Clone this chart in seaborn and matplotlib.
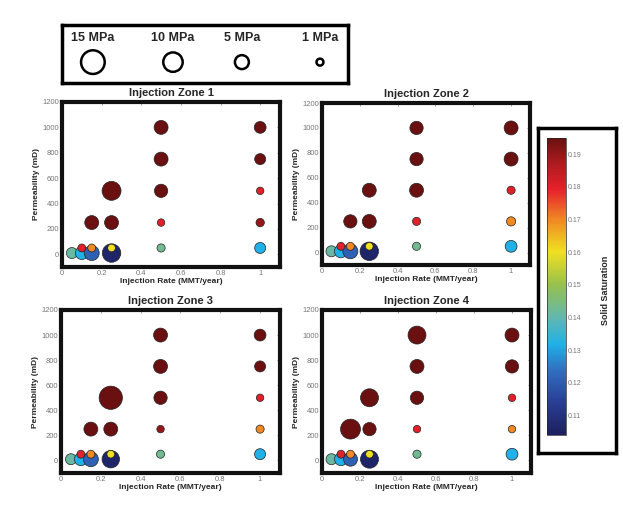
import matplotlib
matplotlib.use("Agg")
import matplotlib.pyplot as plt
import seaborn as sns
import pandas as pd
from matplotlib.colors import Normalize, LinearSegmentedColormap
from matplotlib.cm import ScalarMappable

# --- data ---
rate = [0.05, 0.1, 0.15, 0.25, 0.1, 0.15, 0.25, 0.5, 1, 0.15, 0.25, 0.5, 1,
        0.25, 0.5, 1, 0.5, 1, 0.5, 1]
perm = [10, 10, 10, 10, 50, 50, 50, 50, 50, 250, 250, 250, 250,
        500, 500, 500, 750, 750, 1000, 1000]

zone_names = ["Injection Zone 1", "Injection Zone 2", "Injection Zone 3", "Injection Zone 4"]

pressure_z1 = [3, 4.3, 5.8, 9, 1.4, 1.4, 1.3, 1.5, 3, 5, 5, 1.2, 1.6, 9.5, 4.5, 1.2, 5, 3, 5, 3.5]
pressure_z2 = [3, 4.3, 5.8, 9, 1.4, 1.4, 1.3, 1.5, 3.5, 4.5, 5, 1.5, 2, 5, 5, 1.5, 4.5, 5, 4.5, 5]
pressure_z3 = [3, 4.3, 5.8, 8, 1.4, 1.4, 1.3, 1.5, 3, 5, 5, 1.2, 1.5, 14.5, 4.5, 1.2, 5, 3, 5, 3.5]
pressure_z4 = [3, 4.3, 5, 8.5, 1.4, 1.4, 1.3, 1.5, 3.5, 10.5, 4.5, 1.2, 1.2, 8.5, 4.5, 1.2, 5, 4.5, 8.5, 5]

sat_z1 = [0.141, 0.132, 0.121, 0.106, 0.18, 0.17, 0.16, 0.143, 0.132, 0.195, 0.195, 0.18, 0.19,
          0.195, 0.195, 0.18, 0.195, 0.195, 0.195, 0.195]
sat_z2 = [0.141, 0.132, 0.121, 0.106, 0.18, 0.17, 0.16, 0.143, 0.132, 0.195, 0.195, 0.18, 0.17,
          0.195, 0.195, 0.18, 0.195, 0.195, 0.195, 0.195]
sat_z3 = [0.141, 0.132, 0.121, 0.106, 0.18, 0.17, 0.16, 0.143, 0.132, 0.195, 0.195, 0.19, 0.17,
          0.195, 0.195, 0.18, 0.195, 0.195, 0.195, 0.195]
sat_z4 = [0.141, 0.132, 0.121, 0.106, 0.18, 0.17, 0.16, 0.143, 0.132, 0.195, 0.195, 0.18, 0.17,
          0.195, 0.195, 0.18, 0.195, 0.195, 0.195, 0.195]

legend_pressures = [15, 10, 5, 1]
legend_labels = ["15 MPa", "10 MPa", "5 MPa", "1 MPa"]

cbar_ticks = [0.11, 0.12, 0.13, 0.14, 0.15, 0.16, 0.17, 0.18, 0.19]
sat_min, sat_max = 0.104, 0.195
size_range = (25, 290)
size_norm = (1, 15)

# washed-out jet, sampled from the original colour bar
cmap = LinearSegmentedColormap.from_list('jet_muted', [
    (0.0, '#1c1f5e'), (0.115, '#2a4098'), (0.218, '#3070c0'), (0.305, '#20b0e8'),
    (0.393, '#60b8b0'), (0.506, '#98c04c'), (0.618, '#f0e020'), (0.73, '#f08424'),
    (0.828, '#e6202a'), (0.908, '#b41c22'), (1.0, '#6a1010')])

sns.set_style("white")
plt.rcParams['font.family'] = ['Liberation Sans', 'DejaVu Sans']

W, H = 623, 507
fig = plt.figure(figsize=(W / 100, H / 100), dpi=100)


def px_axes(left, top, right, bottom):
    return fig.add_axes([left / W, 1 - bottom / H, (right - left) / W, (bottom - top) / H])


boxes = [(62, 102, 280, 267), (322, 103, 530, 265), (61, 310, 280, 473), (322, 310, 531, 473)]
pressures = [pressure_z1, pressure_z2, pressure_z3, pressure_z4]
sats = [sat_z1, sat_z2, sat_z3, sat_z4]

for box, name, pr, st in zip(boxes, zone_names, pressures, sats):
    ax = px_axes(*box)
    df = pd.DataFrame({'rate': rate, 'perm': perm, 'pressure': pr, 'sat': st})
    sns.scatterplot(data=df, x='rate', y='perm', hue='sat', size='pressure',
                    palette=cmap, hue_norm=(sat_min, sat_max),
                    sizes=size_range, size_norm=size_norm,
                    edgecolor='#222222', linewidth=0.5, legend=False, ax=ax)
    ax.set_xlim(0, 1.1)
    ax.set_ylim(-100, 1200)
    ax.set_xticks([0, 0.2, 0.4, 0.6, 0.8, 1])
    ax.set_xticklabels(['0', '0.2', '0.4', '0.6', '0.8', '1'])
    ax.set_yticks(range(0, 1201, 200))
    ax.tick_params(labelsize=5.5, colors='#777777', length=2, width=0.5,
                   direction='in', pad=2, top=True, right=True)
    for sp in ax.spines.values():
        sp.set_linewidth(3)
        sp.set_color('#111111')
        sp.set_visible(True)
    ax.set_title(name, fontsize=8, fontweight='bold', pad=4)
    ax.set_xlabel('Injection Rate (MMT/year)', fontsize=6, fontweight='bold', labelpad=1)
    ax.set_ylabel('Permeability (mD)', fontsize=6, fontweight='bold', labelpad=2)

# --- pressure legend box ---
lax = px_axes(62, 25, 348, 83)
lax.set_xlim(0, 1)
lax.set_ylim(0, 1)
lx = [0.108, 0.388, 0.629, 0.902]
lsizes = [size_range[0] + (p - size_norm[0]) * (size_range[1] - size_range[0]) / (size_norm[1] - size_norm[0])
          for p in legend_pressures]
lax.scatter(lx, [0.36] * 4, s=lsizes, facecolor='white', edgecolor='black', linewidth=1.8)
for x, lab in zip(lx, legend_labels):
    lax.text(x, 0.77, lab, ha='center', va='center', fontsize=9, fontweight='bold')
lax.set_xticks([])
lax.set_yticks([])
for sp in lax.spines.values():
    sp.set_linewidth(2.5)
    sp.set_color('black')

# --- colorbar with box ---
bax = px_axes(538, 128, 616, 453)
bax.set_xticks([])
bax.set_yticks([])
for sp in bax.spines.values():
    sp.set_linewidth(2.5)
    sp.set_color('black')

cax = px_axes(547, 138, 566, 435)
sm = ScalarMappable(norm=Normalize(sat_min, sat_max), cmap=cmap)
cb = fig.colorbar(sm, cax=cax, ticks=cbar_ticks)
cb.ax.set_yticklabels([f'{t:.2f}' for t in cbar_ticks])
cb.ax.tick_params(labelsize=5, colors='#777777', length=2, width=0.5, direction='in', pad=1)
cb.outline.set_linewidth(0.5)
fig.text(605 / W, 1 - 290 / H, 'Solid Saturation', rotation=90, ha='center', va='center',
         fontsize=6.5, fontweight='bold')

fig.savefig('out.png', dpi=100)
